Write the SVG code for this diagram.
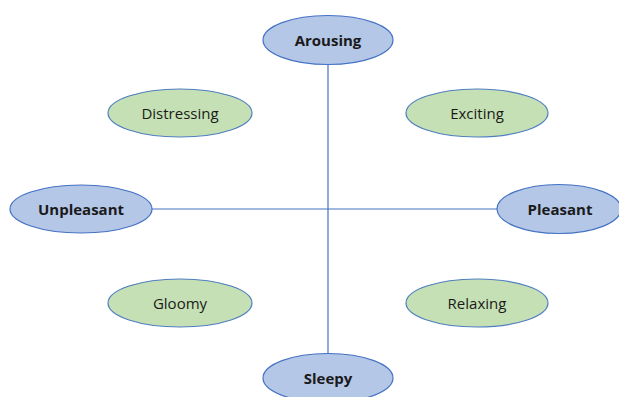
<svg xmlns="http://www.w3.org/2000/svg" width="619" height="397" viewBox="0 0 619 397">
  <style>
    .axis { fill: #b4c7e7; stroke: #4472c4; stroke-width: 1.2; }
    .mood { fill: #c5e0b4; stroke: #4f7fbf; stroke-width: 1.2; }
    .lbl { font-family: "Open Sans", "Liberation Sans", sans-serif; font-size: 15px; fill: #1a1a1a; text-anchor: middle; dominant-baseline: central; }
    .bold { font-weight: bold; }
    .conn { stroke: #4472c4; stroke-width: 1.2; fill: none; }
  </style>
  <rect width="619" height="397" fill="#ffffff"/>
  <g id="connectors">
    <line class="conn" x1="328" y1="64" x2="328" y2="354"/>
    <line class="conn" x1="152" y1="209" x2="497" y2="209"/>
  </g>
  <g id="arousing">
    <ellipse class="axis" cx="328" cy="40" rx="65" ry="24.5"/>
    <text class="lbl bold" x="328" y="40">Arousing</text>
  </g>
  <g id="sleepy">
    <ellipse class="axis" cx="328" cy="378" rx="65" ry="24.5"/>
    <text class="lbl bold" x="328" y="378">Sleepy</text>
  </g>
  <g id="unpleasant">
    <ellipse class="axis" cx="81" cy="209" rx="71" ry="24"/>
    <text class="lbl bold" x="81" y="209">Unpleasant</text>
  </g>
  <g id="pleasant">
    <ellipse class="axis" cx="559" cy="209" rx="62" ry="24.5"/>
    <text class="lbl bold" x="560" y="209">Pleasant</text>
  </g>
  <g id="distressing">
    <ellipse class="mood" cx="180" cy="113" rx="72" ry="24"/>
    <text class="lbl" x="180" y="113">Distressing</text>
  </g>
  <g id="exciting">
    <ellipse class="mood" cx="477" cy="113" rx="71" ry="24"/>
    <text class="lbl" x="477" y="113">Exciting</text>
  </g>
  <g id="gloomy">
    <ellipse class="mood" cx="180" cy="303" rx="72" ry="24"/>
    <text class="lbl" x="180" y="303">Gloomy</text>
  </g>
  <g id="relaxing">
    <ellipse class="mood" cx="477" cy="303" rx="71" ry="24"/>
    <text class="lbl" x="477" y="303">Relaxing</text>
  </g>
</svg>
